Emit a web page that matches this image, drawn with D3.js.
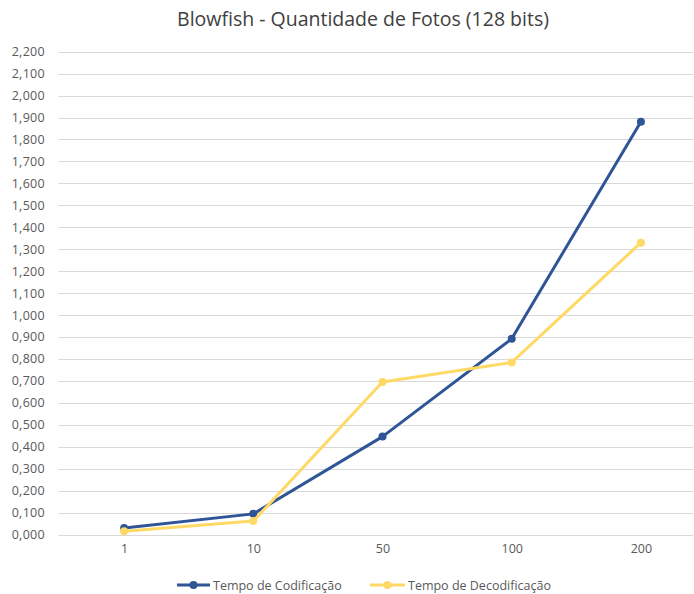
<!DOCTYPE html>
<html>
<head>
<meta charset="utf-8">
<script src="https://cdn.jsdelivr.net/npm/d3@7"></script>
<style>
  html, body { margin: 0; padding: 0; background: #fff; }
  svg { display: block; }
</style>
</head>
<body>
<svg id="chart" width="694" height="594"></svg>
<script>
// Quantidade de fotos (categorias do eixo X)
const categories = ["1", "10", "50", "100", "200"];
// Tempos medidos (segundos)
const codificacao = [0.030, 0.094, 0.446, 0.892, 1.881];
const decodificacao = [0.015, 0.061, 0.695, 0.784, 1.330];
const yTicks = d3.range(0, 2.2001, 0.1);
const seriesNames = ["Tempo de Codificação", "Tempo de Decodificação"];
const seriesColors = ["#2F5597", "#FFD966"];

const svg = d3.select("#chart");
const font = "'Open Sans', 'Noto Sans', sans-serif";

const plotLeft = 59.5, plotRight = 693, bandRight = 705.5;
const x = d3.scalePoint().domain(categories).range([plotLeft, bandRight]).padding(0.5);
const y = d3.scaleLinear().domain([0, 2.2]).range([534.5, 51.7]);

const fmt = v => d3.format(".3f")(v).replace(".", ",");

// Título
svg.append("text")
  .attr("x", 363).attr("y", 26)
  .attr("text-anchor", "middle")
  .attr("font-family", font).attr("font-size", 19.5)
  .attr("fill", "#404040")
  .text("Blowfish - Quantidade de Fotos (128 bits)");

// Linhas de grade horizontais
svg.append("g").selectAll("line").data(yTicks).join("line")
  .attr("x1", plotLeft - 1).attr("x2", plotRight)
  .attr("y1", d => Math.round(y(d)) + 0.5).attr("y2", d => Math.round(y(d)) + 0.5)
  .attr("stroke", "#d9d9d9").attr("stroke-width", 1);

// Eixo Y
const yAxis = d3.axisLeft(y).tickValues(yTicks).tickFormat(fmt).tickSize(0).tickPadding(0);
const gy = svg.append("g").attr("transform", "translate(45,0)").call(yAxis);
gy.select(".domain").remove();
gy.selectAll("text").attr("font-family", font).attr("font-size", 12.5)
  .attr("letter-spacing", 0.3).attr("fill", "#595959");

// Eixo X
const xAxis = d3.axisBottom(x).tickSize(0).tickPadding(0);
const gx = svg.append("g").attr("transform", "translate(0,544)").call(xAxis);
gx.select(".domain").remove();
gx.selectAll("text").attr("font-family", font).attr("font-size", 12.5).attr("fill", "#595959");

// Séries
const series = [codificacao, decodificacao];
const line = d3.line().x((d, i) => x(categories[i])).y(d => y(d));
series.forEach((vals, s) => {
  const g = svg.append("g");
  g.append("path").datum(vals)
    .attr("d", line)
    .attr("fill", "none")
    .attr("stroke", seriesColors[s])
    .attr("stroke-width", 3)
    .attr("stroke-linejoin", "round")
    .attr("stroke-linecap", "round");
  g.selectAll("circle").data(vals).join("circle")
    .attr("cx", (d, i) => x(categories[i]))
    .attr("cy", d => y(d))
    .attr("r", 4)
    .attr("fill", seriesColors[s]);
});

// Legenda
const legendItems = [
  { x1: 177, x2: 210, tx: 213 },
  { x1: 370, x2: 405, tx: 408 }
];
legendItems.forEach((it, s) => {
  const g = svg.append("g");
  const cy = 585;
  g.append("line").attr("x1", it.x1).attr("x2", it.x2).attr("y1", cy).attr("y2", cy)
    .attr("stroke", seriesColors[s]).attr("stroke-width", 3);
  g.append("circle").attr("cx", (it.x1 + it.x2) / 2).attr("cy", cy).attr("r", 4)
    .attr("fill", seriesColors[s]);
  g.append("text").attr("x", it.tx).attr("y", cy + 4.5)
    .attr("font-family", font).attr("font-size", 12.5).attr("fill", "#595959")
    .text(seriesNames[s]);
});
</script>
</body>
</html>
